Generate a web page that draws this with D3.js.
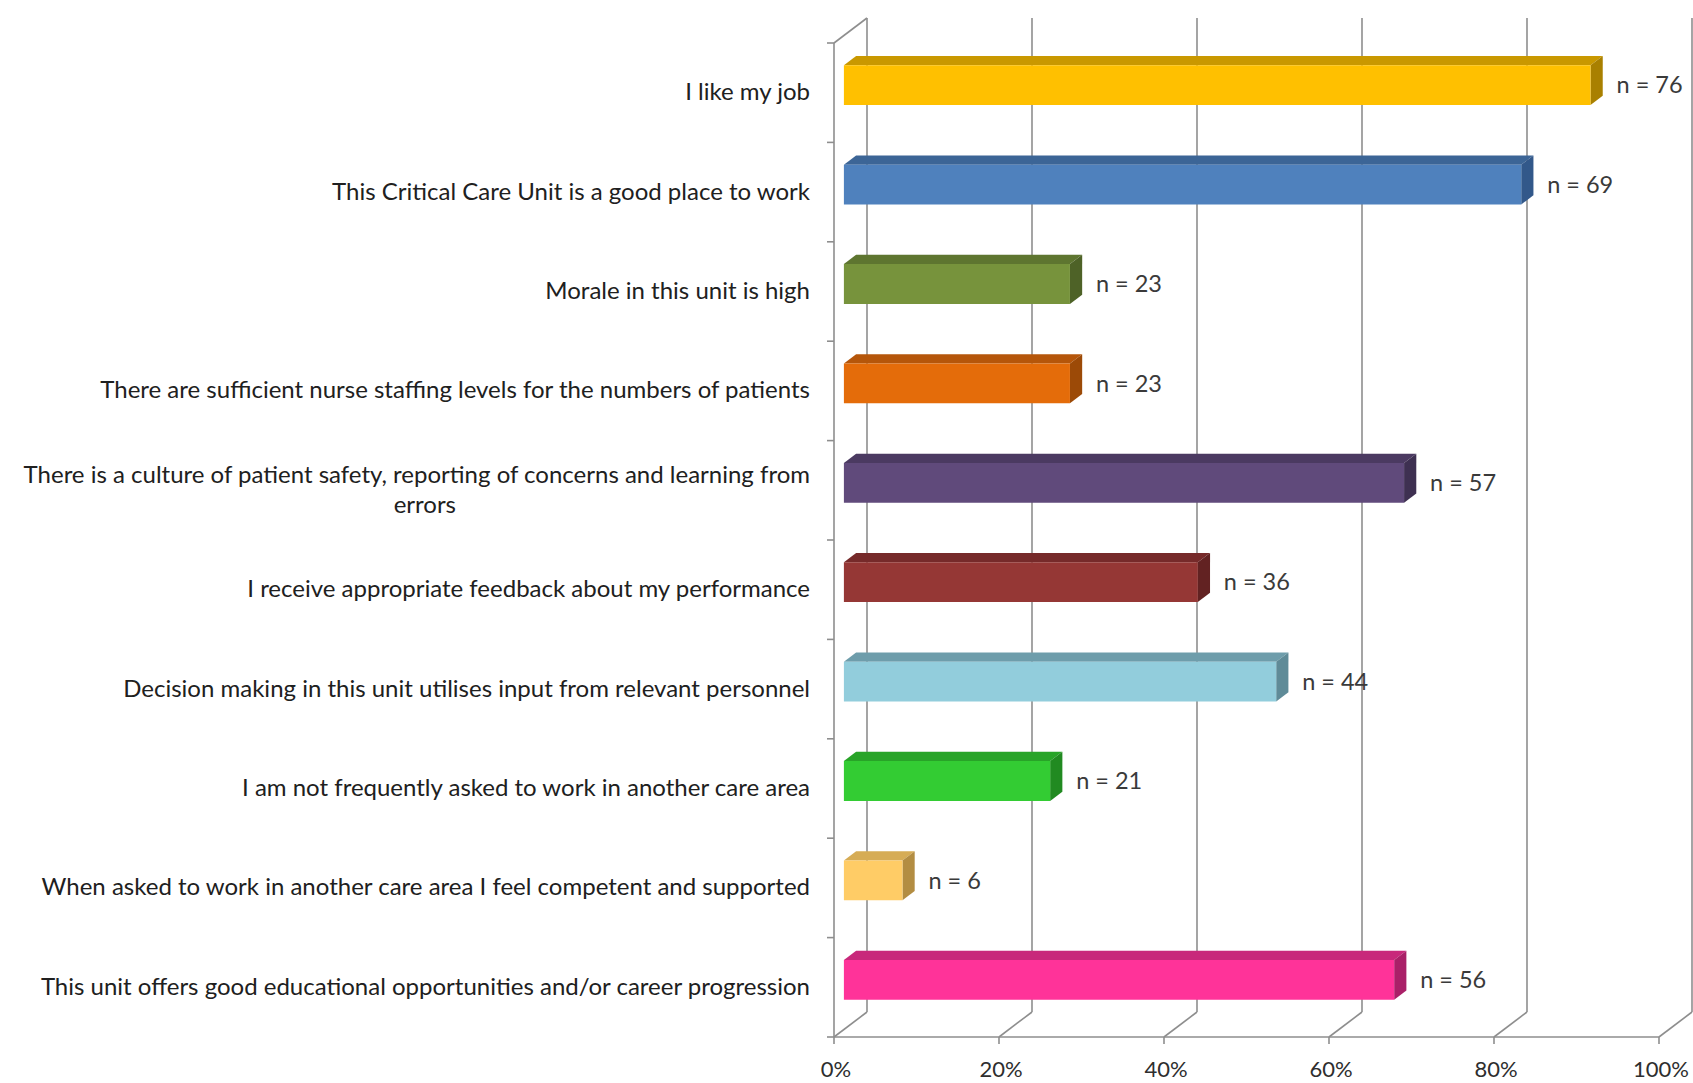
<!DOCTYPE html>
<html><head><meta charset="utf-8">
<script src="https://cdn.jsdelivr.net/npm/d3@7"></script>
<style>body{margin:0;background:#fff;} svg{display:block}</style>
</head><body><svg id="chart" width="1693" height="1083"></svg>
<script>
// ---- data ----
const categories = [
  "I like my job",
  "This Critical Care Unit is a good place to work",
  "Morale in this unit is high",
  "There are sufficient nurse staffing levels for the numbers of patients",
  "There is a culture of patient safety, reporting of concerns and learning from\nerrors",
  "I receive appropriate feedback about my performance",
  "Decision making in this unit utilises input from relevant personnel",
  "I am not frequently asked to work in another care area",
  "When asked to work in another care area I feel competent and supported",
  "This unit offers good educational opportunities and/or career progression"
];
const percentValues = [90.5, 82.1, 27.4, 27.4, 67.9, 42.9, 52.4, 25.0, 7.1, 66.7];
const nLabels = ["n = 76","n = 69","n = 23","n = 23","n = 57","n = 36","n = 44","n = 21","n = 6","n = 56"];
const frontColors = ["#FFC000","#4F81BD","#77933C","#E46C0A","#604A7B","#953735","#92CDDC","#33CC33","#FFCC66","#FF3399"];
const topColors   = ["#C99800","#3C6596","#5E7530","#B5560A","#4B3A61","#762A2A","#6E9DAB","#28A428","#D6AC55","#C8287B"];
const sideColors  = ["#A98000","#32588A","#4E6227","#9C4A07","#3E3051","#622222","#5F8B98","#218A21","#B38D42","#AA2068"];
const xTicks = [0, 20, 40, 60, 80, 100];
const xTickLabels = ["0%","20%","40%","60%","80%","100%"];

// ---- layout ----
const svg = d3.select("#chart");
const pLeft = 834, pRight = 1659, pTop = 43, pBottom = 1037;
const DX = 33, DY = 25;           // depth of the 3D box
const dFront = 0.3, dBack = 0.67; // bar depth range (fraction of box depth)
const gridColor = "#8e8e8e";
const FONT = "Lato, 'Open Sans', sans-serif";
const catSize = 24, valSize = 23.5, axisSize = 22;

const x = d3.scaleLinear().domain([0, 100]).range([pLeft, pRight]);
const y = d3.scaleBand().domain(categories).range([pTop, pBottom]).paddingInner(0.6).paddingOuter(0.3);
const step = y.step();
const P = (px, py, d) => [px + d * DX, py - d * DY];

const g = svg.append("g");

// back wall gridlines (including 0% back edge of side wall)
g.selectAll("line.grid").data(xTicks).join("line")
  .attr("x1", d => P(x(d), pBottom, 1)[0]).attr("x2", d => P(x(d), pTop, 1)[0])
  .attr("y1", P(0, pBottom, 1)[1]).attr("y2", P(0, pTop, 1)[1])
  .attr("stroke", gridColor).attr("stroke-width", 1.6);

// floor diagonals
g.selectAll("line.floor").data(xTicks).join("line")
  .attr("x1", d => x(d)).attr("y1", pBottom)
  .attr("x2", d => P(x(d), pBottom, 1)[0]).attr("y2", P(0, pBottom, 1)[1])
  .attr("stroke", gridColor).attr("stroke-width", 1.6);

// front floor line
g.append("line").attr("x1", x(0)).attr("x2", x(100)).attr("y1", pBottom).attr("y2", pBottom)
  .attr("stroke", gridColor).attr("stroke-width", 1.6);
// floor ticks
g.selectAll("line.ftick").data(xTicks).join("line")
  .attr("x1", d => x(d)).attr("x2", d => x(d)).attr("y1", pBottom).attr("y2", pBottom + 7)
  .attr("stroke", gridColor).attr("stroke-width", 1.6);

// left wall front edge + top edge
g.append("line").attr("x1", x(0)).attr("x2", x(0)).attr("y1", pTop).attr("y2", pBottom)
  .attr("stroke", gridColor).attr("stroke-width", 1.6);
g.append("line").attr("x1", x(0)).attr("y1", pTop)
  .attr("x2", P(x(0), pTop, 1)[0]).attr("y2", P(x(0), pTop, 1)[1])
  .attr("stroke", gridColor).attr("stroke-width", 1.6);
// category ticks on the wall
const bounds = categories.map((c, i) => pTop + i * step).concat([pBottom]);
g.selectAll("line.ytick").data(bounds).join("line")
  .attr("x1", x(0) - 7).attr("x2", x(0)).attr("y1", d => d).attr("y2", d => d)
  .attr("stroke", gridColor).attr("stroke-width", 1.6);

// bars
const bars = g.selectAll("g.bar").data(categories).join("g").attr("class", "bar");
bars.each(function(c, i) {
  const sel = d3.select(this);
  const yt = y(c), yb = y(c) + y.bandwidth();
  const x0 = x(0), x1 = x(percentValues[i]);
  const ftl = P(x0, yt, dFront), ftr = P(x1, yt, dFront), fbr = P(x1, yb, dFront), fbl = P(x0, yb, dFront);
  const btl = P(x0, yt, dBack), btr = P(x1, yt, dBack), bbr = P(x1, yb, dBack);
  sel.append("polygon").attr("points", [ftl, ftr, btr, btl].map(p => p.join(",")).join(" "))
    .attr("fill", topColors[i]);
  sel.append("polygon").attr("points", [ftr, btr, bbr, fbr].map(p => p.join(",")).join(" "))
    .attr("fill", sideColors[i]);
  sel.append("polygon").attr("points", [ftl, ftr, fbr, fbl].map(p => p.join(",")).join(" "))
    .attr("fill", frontColors[i]);
  // value label
  sel.append("text")
    .attr("x", ftr[0] + 26).attr("y", (ftr[1] + fbr[1]) / 2).attr("dy", "0.35em")
    .attr("font-family", FONT).attr("font-size", valSize).attr("fill", "#3a3a3a")
    .text(nLabels[i]);
});

// category labels
const labelRight = 810;
categories.forEach((c, i) => {
  const lines = c.split("\n");
  const cy = y(c) + y.bandwidth() / 2;
  if (lines.length === 1) {
    g.append("text").attr("x", labelRight).attr("y", cy - 1).attr("dy", "0.35em")
      .attr("text-anchor", "end").attr("font-family", FONT).attr("font-size", catSize)
      .attr("fill", "#202020").text(c);
  } else {
    const t1 = g.append("text").attr("x", labelRight).attr("y", cy - 16).attr("dy", "0.35em")
      .attr("text-anchor", "end").attr("font-family", FONT).attr("font-size", catSize)
      .attr("fill", "#202020").text(lines[0]);
    const w1 = t1.node().getComputedTextLength();
    g.append("text").attr("x", labelRight - w1 / 2 + 8).attr("y", cy + 14).attr("dy", "0.35em")
      .attr("text-anchor", "middle").attr("font-family", FONT).attr("font-size", catSize)
      .attr("fill", "#202020").text(lines[1]);
  }
});

// x tick labels
g.selectAll("text.xl").data(xTicks).join("text")
  .attr("x", d => x(d) + 2).attr("y", 1069).attr("dy", "0.35em")
  .attr("text-anchor", "middle").attr("font-family", FONT).attr("font-size", axisSize)
  .attr("fill", "#2e2e2e").text((d, i) => xTickLabels[i]);
</script>
</body></html>
